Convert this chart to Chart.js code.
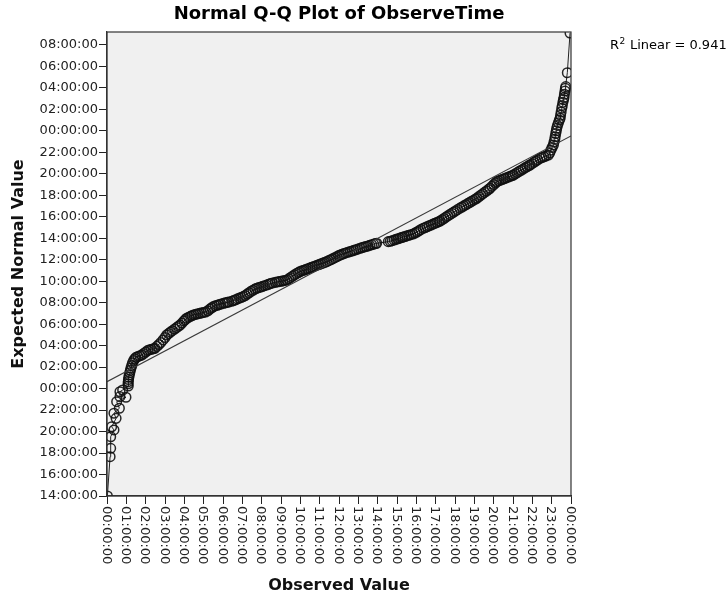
<!DOCTYPE html>
<html>
<head>
<meta charset="utf-8">
<script src="https://cdn.jsdelivr.net/npm/chart.js@4.4.0/dist/chart.umd.min.js"></script>
<style>
  html, body { margin: 0; padding: 0; background: #fff; }
  #wrap { width: 727px; height: 596px; }
</style>
</head>
<body>
<div id="wrap"><canvas id="qq" width="727" height="596"></canvas></div>
<script>
// times are in hours; expected values above 24 belong to the next day(s)
const observedHours = [
  0.02, 0.16, 0.19, 0.19, 0.36, 0.24, 0.47, 0.36, 0.64, 0.50, 0.98, 0.67, 0.67, 0.81,
  1.10, 1.09, 1.10, 1.11, 1.13, 1.15, 1.18, 1.21, 1.24, 1.28, 1.32, 1.38, 1.44, 1.50,
  1.60, 1.70, 1.80, 1.90, 2.00, 2.10, 2.20, 2.30, 2.40, 2.48, 2.58, 2.68, 2.78, 2.90, 3.00, 3.09,
  3.18, 3.28, 3.38, 3.50, 3.60, 3.70, 3.78, 3.88, 3.98, 4.05, 4.12, 4.22, 4.32, 4.40,
  4.50, 4.60, 4.70, 4.80, 4.90, 5.00, 5.10, 5.22, 5.32, 5.42, 5.50, 5.60, 5.70, 5.80, 5.90, 6.02,
  6.12, 6.22, 6.30, 6.45, 6.55, 6.65, 6.75, 6.85, 6.95, 7.05,
  7.15, 7.25, 7.35, 7.45, 7.55, 7.65, 7.74, 7.85, 7.95, 8.05, 8.15, 8.25, 8.35, 8.45, 8.55,
  8.70, 8.80, 8.90, 9.00, 9.10, 9.20, 9.30, 9.40, 9.50, 9.60, 9.70, 9.80, 9.90, 9.98,
  10.08, 10.18, 10.28, 10.38, 10.48, 10.58, 10.67, 10.77, 10.87, 10.97, 11.07, 11.17, 11.27, 11.37,
  11.47, 11.57, 11.67, 11.77, 11.87, 11.97, 12.05, 12.15, 12.25, 12.35, 12.45, 12.57,
  12.67, 12.77, 12.87, 12.97, 13.09, 13.19, 13.29, 13.39, 13.49, 13.59, 13.69, 13.79, 13.89, 13.95,
  14.55, 14.65, 14.75, 14.85, 14.95, 15.05, 15.15, 15.25, 15.31, 15.41, 15.51, 15.61, 15.71, 15.83,
  15.93, 16.03, 16.13, 16.23, 16.36, 16.46, 16.56, 16.66, 16.76, 16.86, 16.96, 17.06, 17.16, 17.23,
  17.33, 17.43, 17.53, 17.63, 17.73, 17.83, 17.93, 18.03, 18.13, 18.26,
  18.36, 18.46, 18.56, 18.66, 18.76, 18.86, 18.96, 19.06, 19.13,
  19.23, 19.33, 19.43, 19.53, 19.63, 19.73, 19.81, 19.91, 20.01, 20.10, 20.16,
  20.26, 20.36, 20.46, 20.56, 20.66, 20.76, 20.86, 20.96, 21.02,
  21.12, 21.22, 21.32, 21.42, 21.52, 21.62, 21.72, 21.82, 21.88,
  21.98, 22.08, 22.18, 22.28, 22.40, 22.50, 22.60, 22.70, 22.83,
  22.90, 22.96, 23.02, 23.09, 23.12, 23.16, 23.18, 23.21, 23.24, 23.26, 23.30, 23.35, 23.40,
  23.44, 23.46, 23.49, 23.52, 23.55, 23.58, 23.61, 23.64, 23.66, 23.69, 23.71, 23.73, 23.81, 23.95
];
const expectedHours = [
  14.00, 17.66, 18.44, 19.52, 20.15, 20.45, 21.23, 21.70, 22.17, 22.78, 23.19, 23.25, 23.71, 23.87,
  24.24, 24.45, 24.65, 24.85, 25.05, 25.27, 25.48, 25.70, 25.92, 26.15, 26.40, 26.62, 26.78, 26.91,
  26.99, 27.06, 27.13, 27.27, 27.40, 27.54, 27.62, 27.66, 27.71, 27.75, 27.93, 28.10, 28.28, 28.53, 28.76, 28.99,
  29.12, 29.26, 29.39, 29.55, 29.68, 29.81, 29.92, 30.10, 30.30, 30.42, 30.55, 30.64, 30.73, 30.80,
  30.87, 30.92, 30.97, 31.01, 31.05, 31.09, 31.13, 31.25, 31.40, 31.53, 31.63, 31.70, 31.76, 31.82, 31.87, 31.94,
  31.98, 32.03, 32.06, 32.13, 32.20, 32.27, 32.35, 32.42, 32.49, 32.56,
  32.67, 32.80, 32.92, 33.05, 33.16, 33.26, 33.34, 33.40, 33.46, 33.52, 33.58, 33.64, 33.70, 33.77, 33.83,
  33.89, 33.93, 33.96, 33.99, 34.03, 34.07, 34.11, 34.22, 34.35, 34.47, 34.59, 34.70, 34.80, 34.89,
  34.96, 35.02, 35.09, 35.16, 35.22, 35.29, 35.35, 35.42, 35.49, 35.55, 35.62, 35.69, 35.76, 35.82,
  35.91, 36.00, 36.09, 36.18, 36.27, 36.36, 36.44, 36.50, 36.57, 36.63, 36.69, 36.75,
  36.81, 36.87, 36.93, 36.99, 37.06, 37.12, 37.17, 37.23, 37.28, 37.34, 37.39, 37.45, 37.50, 37.53,
  37.68, 37.72, 37.77, 37.83, 37.89, 37.95, 38.01, 38.07, 38.11, 38.16, 38.22, 38.27, 38.33, 38.39,
  38.48, 38.58, 38.69, 38.80, 38.93, 39.00, 39.08, 39.15, 39.23, 39.31, 39.38, 39.46, 39.54, 39.60,
  39.72, 39.84, 39.96, 40.08, 40.20, 40.31, 40.43, 40.54, 40.66, 40.80,
  40.91, 41.01, 41.12, 41.22, 41.33, 41.44, 41.54, 41.64, 41.72,
  41.86, 42.00, 42.13, 42.27, 42.40, 42.54, 42.65, 42.83, 43.00, 43.16, 43.27,
  43.34, 43.41, 43.48, 43.55, 43.62, 43.70, 43.77, 43.84, 43.89,
  44.00, 44.11, 44.22, 44.33, 44.44, 44.55, 44.65, 44.76, 44.82,
  44.94, 45.06, 45.18, 45.30, 45.44, 45.51, 45.58, 45.65, 45.75,
  45.95, 46.20, 46.45, 46.68, 46.95, 47.20, 47.45, 47.75, 48.00, 48.24, 48.50, 48.75, 49.00,
  49.17, 49.45, 49.75, 50.10, 50.35, 50.65, 50.90, 51.10, 51.40, 51.70, 51.95, 52.11, 53.41, 57.10
];
const fitLineX = [0, 24];
const fitLineY = [24.64, 47.52];
const rSquaredText = "0.941";
const xTickHours = [0, 1, 2, 3, 4, 5, 6, 7, 8, 9, 10, 11, 12, 13, 14, 15, 16, 17, 18, 19, 20, 21, 22, 23, 24];
const yTickHours = [14, 16, 18, 20, 22, 24, 26, 28, 30, 32, 34, 36, 38, 40, 42, 44, 46, 48, 50, 52, 54, 56];

function fmtHour(h) {
  const v = ((Math.round(h) % 24) + 24) % 24;
  return String(v).padStart(2, "0") + ":00:00";
}

const FONT = '"DejaVu Sans", "Noto Sans", sans-serif';

const qqDecor = {
  id: "qqDecor",
  beforeDraw(chart) {
    const { ctx, chartArea: a } = chart;
    ctx.save();
    ctx.fillStyle = "#f0f0f0";
    ctx.fillRect(a.left, a.top, a.right - a.left, a.bottom - a.top);
    ctx.restore();
  },
  afterDraw(chart) {
    const { ctx, chartArea: a } = chart;
    ctx.save();
    // frame
    ctx.strokeStyle = "#333";
    ctx.lineWidth = 1.2;
    ctx.strokeRect(a.left, a.top, a.right - a.left, a.bottom - a.top);

    // x tick labels, rotated to read downwards
    const xs = chart.scales.x;
    ctx.font = "13px " + FONT;
    ctx.fillStyle = "#222";
    ctx.textAlign = "left";
    ctx.textBaseline = "middle";
    xs.ticks.forEach((t) => {
      const px = xs.getPixelForValue(t.value);
      ctx.save();
      ctx.translate(px - 1, a.bottom + 10);
      ctx.rotate(Math.PI / 2);
      ctx.fillText(fmtHour(t.value), 0, 0);
      ctx.restore();
    });

    // title
    ctx.font = "bold 18px " + FONT;
    ctx.fillStyle = "#000";
    ctx.textAlign = "center";
    ctx.textBaseline = "middle";
    ctx.fillText("Normal Q-Q Plot of ObserveTime", (a.left + a.right) / 2, 14);

    // R squared note
    ctx.textAlign = "left";
    ctx.textBaseline = "alphabetic";
    ctx.font = "13px " + FONT;
    let x = 610;
    ctx.fillText("R", x, 49);
    x += ctx.measureText("R").width;
    ctx.font = "9px " + FONT;
    ctx.fillText("2", x + 0.5, 44);
    x += ctx.measureText("2").width + 1;
    ctx.font = "13px " + FONT;
    ctx.fillText(" Linear = " + rSquaredText, x, 49);
    ctx.restore();
  },
};

const qqPoints = observedHours.map((x, i) => ({ x: x, y: expectedHours[i] }));
const fitPoints = fitLineX.map((x, i) => ({ x: x, y: fitLineY[i] }));

new Chart(document.getElementById("qq"), {
  type: "scatter",
  data: {
    datasets: [
      {
        label: "fit",
        data: fitPoints,
        showLine: true,
        borderColor: "#3a3a3a",
        borderWidth: 1.1,
        pointRadius: 0,
        pointHoverRadius: 0,
      },
      {
        label: "ObserveTime",
        data: qqPoints,
        showLine: true,
        borderColor: "#222",
        borderWidth: 1,
        pointRadius: 4.8,
        pointBorderWidth: 1.5,
        pointBorderColor: "rgba(15,15,15,0.9)",
        pointBackgroundColor: "rgba(0,0,0,0)",
      },
    ],
  },
  options: {
    responsive: false,
    animation: false,
    devicePixelRatio: 1,
    layout: { padding: { left: 0, right: 156, top: 32, bottom: 0 } },
    plugins: {
      legend: { display: false },
      title: { display: false },
      tooltip: { enabled: false },
    },
    scales: {
      x: {
        type: "linear",
        min: 0,
        max: 24,
        ticks: { display: false, autoSkip: false },
        afterBuildTicks(scale) {
          scale.ticks = xTickHours.map((v) => ({ value: v }));
        },
        grid: { drawOnChartArea: false, drawTicks: true, tickLength: 8, color: "#222" },
        border: { color: "#333", width: 1.2 },
        title: {
          display: true,
          text: "Observed Value",
          color: "#111",
          font: { family: FONT, size: 16, weight: "bold" },
          padding: { top: 0, bottom: 1 },
        },
        afterFit(scale) {
          scale.height = 100;
        },
      },
      y: {
        type: "linear",
        min: 14,
        max: 57.2,
        ticks: {
          autoSkip: false,
          padding: 1,
          color: "#222",
          font: { family: FONT, size: 13 },
          callback: (v) => fmtHour(v),
        },
        afterBuildTicks(scale) {
          scale.ticks = yTickHours.map((v) => ({ value: v }));
        },
        grid: { drawOnChartArea: false, drawTicks: true, tickLength: 8, color: "#222" },
        border: { color: "#333", width: 1.2 },
        title: {
          display: true,
          text: "Expected Normal Value",
          color: "#111",
          font: { family: FONT, size: 16, weight: "bold" },
          padding: { top: 9, bottom: 0 },
        },
        afterFit(scale) {
          scale.width = 107;
        },
      },
    },
  },
  plugins: [qqDecor],
});
</script>
</body>
</html>
